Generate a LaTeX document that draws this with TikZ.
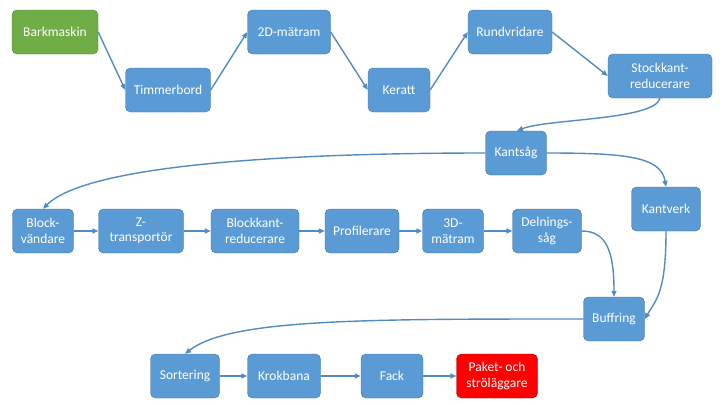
\documentclass[tikz,border=0pt]{standalone}
\usepackage{fontspec}
\setmainfont{Carlito}
\usetikzlibrary{arrows.meta}
\usepackage{xcolor}
\definecolor{boxblue}{HTML}{5B9BD5}
\definecolor{boxline}{HTML}{41719C}
\definecolor{boxgreen}{HTML}{70AD47}
\definecolor{greenline}{HTML}{507E32}
\definecolor{boxred}{HTML}{FF0000}
\definecolor{redline}{HTML}{A00000}

\begin{document}
\begin{tikzpicture}[x=1pt,y=-1pt]
    \useasboundingbox (0,0) rectangle (720,405);
    \begin{scope}[every node/.style={draw=boxline,fill=boxblue,rounded corners=5pt,
        minimum height=44pt,inner sep=1pt,text=white,align=center,
        font=\fontsize{13.5}{15.5}\selectfont}]
      \node[fill=boxgreen,draw=greenline,minimum width=86pt] (bark) at (55,32) {Barkmaskin};
      \node[minimum width=85pt] (timmer) at (168,90) {Timmerbord};
      \node[minimum width=83pt] (matram2d) at (289,32) {2D-mätram};
      \node[minimum width=62pt] (keratt) at (399,90) {Keratt};
      \node[minimum width=84pt] (rund) at (510,32) {Rundvridare};
      \node[minimum width=104pt] (stock) at (660,76) {Stockkant-\\reducerare};
      \node[minimum width=61pt] (kantsag) at (516,153) {Kantsåg};
      \node[minimum width=69pt] (kantverk) at (666,209) {Kantverk};
      \node[minimum width=61pt] (block) at (43,231) {Block-\\vändare};
      \node[minimum width=85pt] (ztrans) at (141,231) {Z-\\transportör};
      \node[minimum width=88pt] (blockkant) at (255,231) {Blockkant-\\reducerare};
      \node[minimum width=74pt] (profil) at (362,231) {Profilerare};
      \node[minimum width=61pt] (matram3d) at (453,231) {3D-\\mätram};
      \node[minimum width=69pt] (delning) at (547,231) {Delnings-\\såg};
      \node[minimum width=61pt] (buffring) at (614,319) {Buffring};
      \node[minimum width=69pt] (sort) at (185,376) {Sortering};
      \node[minimum width=73pt] (krok) at (284,376) {Krokbana};
      \node[minimum width=62pt] (fack) at (392,376) {Fack};
      \node[fill=boxred,draw=redline,minimum width=81pt] (paket) at (497,376) {Paket- och\\ströläggare};
    \end{scope}

    \begin{scope}[>={Triangle[length=6pt,width=5pt]},
        every path/.style={draw=boxblue!90!black,line width=1.4pt}]
      \draw [->] (bark.east) -- (timmer.west);
      \draw [->] (timmer.east) -- (matram2d.west);
      \draw [->] (matram2d.east) -- (keratt.west);
      \draw [->] (keratt.east) -- (rund.west);
      \draw [->] (rund.east) -- (stock.west);
      \draw [->] (stock.south) .. controls +(-5,22) and +(30,-12) .. ([xshift=1pt]kantsag.north);
      \draw [->] (kantsag.west) .. controls +(-190,0) and +(45,-45) .. (block.north);
      \draw [->] (kantsag.east) .. controls +(80,0) and +(-5,-30) .. (kantverk.north);
      \draw [->] (kantverk.south) .. controls +(0,60) and +(12,-20) .. (buffring.east);
      \draw [->] (delning.east) .. controls +(25,0) and +(0,-45) .. (buffring.north);
      \draw [->] (buffring.west) .. controls +(-220,0) and +(45,-35) .. (sort.north);
      \draw [->] (block) -- (ztrans);
      \draw [->] (ztrans) -- (blockkant);
      \draw [->] (blockkant) -- (profil);
      \draw [->] (profil) -- (matram3d);
      \draw [->] (matram3d) -- (delning);
      \draw [->] (sort) -- (krok);
      \draw [->] (krok) -- (fack);
      \draw [->] (fack) -- (paket);
    \end{scope}
  \end{tikzpicture}
\end{document}
